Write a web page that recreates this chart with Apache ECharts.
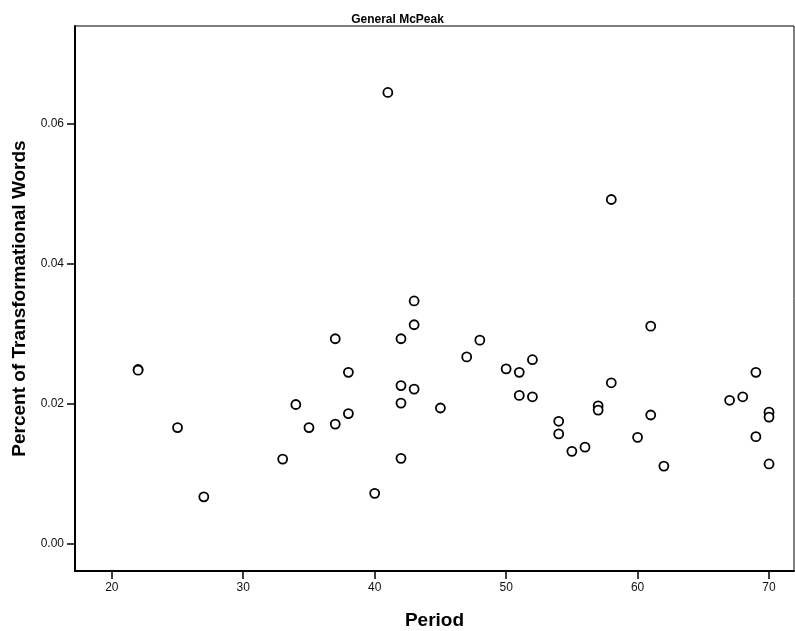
<!DOCTYPE html>
<html>
<head>
<meta charset="utf-8">
<script src="https://cdn.jsdelivr.net/npm/echarts@6/dist/echarts.min.js"></script>
<style>
  html, body { margin: 0; padding: 0; background: #fff; }
  #chart { width: 795px; height: 631px; }
</style>
</head>
<body>
<div id="chart"></div>
<script>
// Period (x) and percent of transformational words (y)
const periods = [22, 22, 25, 27, 33, 34, 35, 37, 37, 38, 38, 40, 41,
  42, 42, 42, 42, 43, 43, 43, 45, 47, 48, 50, 51, 51, 52, 52,
  54, 54, 55, 56, 57, 57, 58, 58, 60, 61, 61, 62, 67, 68, 69, 69, 70, 70, 70];
const percents = [0.0249, 0.0248, 0.0166, 0.0067, 0.0121, 0.0199, 0.0166, 0.0293, 0.0171, 0.0245, 0.0186, 0.0072, 0.0645,
  0.0293, 0.0226, 0.0201, 0.0122, 0.0347, 0.0313, 0.0221, 0.0194, 0.0267, 0.0291, 0.0250, 0.0245, 0.0212, 0.0263, 0.0210,
  0.0175, 0.0157, 0.0132, 0.0138, 0.0197, 0.0191, 0.0492, 0.0230, 0.0152, 0.0311, 0.0184, 0.0111, 0.0205, 0.0210, 0.0245, 0.0153, 0.0188, 0.0181, 0.0114];

const xTicks = [20, 30, 40, 50, 60, 70];
const yTicks = [0, 0.02, 0.04, 0.06];

const font = "'Liberation Sans', Arial, sans-serif";
const chart = echarts.init(document.getElementById('chart'));

chart.setOption({
  animation: false,
  title: {
    text: 'General McPeak',
    left: 'center',
    top: 9,
    textStyle: { fontFamily: font, fontSize: 12, fontWeight: 'bold', color: '#000' }
  },
  grid: {
    left: 75, right: 1, top: 26, bottom: 60,
    outerBoundsMode: 'none',
    show: true, borderColor: '#000', borderWidth: 1
  },
  xAxis: {
    type: 'value',
    min: 17.2, max: 71.9,
    name: 'Period',
    nameLocation: 'middle',
    nameGap: 40,
    nameTextStyle: { fontFamily: font, fontSize: 19, fontWeight: 'bold', color: '#000' },
    axisLine: { show: true, onZero: false, lineStyle: { color: '#000', width: 2 } },
    axisTick: { show: true, length: 8, customValues: xTicks, lineStyle: { color: '#000', width: 1.5 } },
    axisLabel: { customValues: xTicks, fontFamily: font, fontSize: 12, color: '#111', margin: 11 },
    splitLine: { show: false }
  },
  yAxis: {
    type: 'value',
    min: -0.0039, max: 0.074,
    name: 'Percent of Transformational Words',
    nameLocation: 'middle',
    nameGap: 37,
    nameTextStyle: { fontFamily: font, fontSize: 19, fontWeight: 'bold', color: '#000' },
    axisLine: { show: true, onZero: false, lineStyle: { color: '#000', width: 2 } },
    axisTick: { show: true, length: 8, customValues: yTicks, lineStyle: { color: '#000', width: 1.5 } },
    axisLabel: {
      customValues: yTicks, fontFamily: font, fontSize: 12, color: '#111', margin: 11,
      formatter: v => v.toFixed(2)
    },
    splitLine: { show: false }
  },
  series: [{
    type: 'scatter',
    data: periods.map((p, i) => [p, percents[i]]),
    symbol: 'circle',
    symbolSize: 9,
    itemStyle: { color: '#fff', borderColor: '#000', borderWidth: 1.8, opacity: 1 }
  }]
});
</script>
</body>
</html>
